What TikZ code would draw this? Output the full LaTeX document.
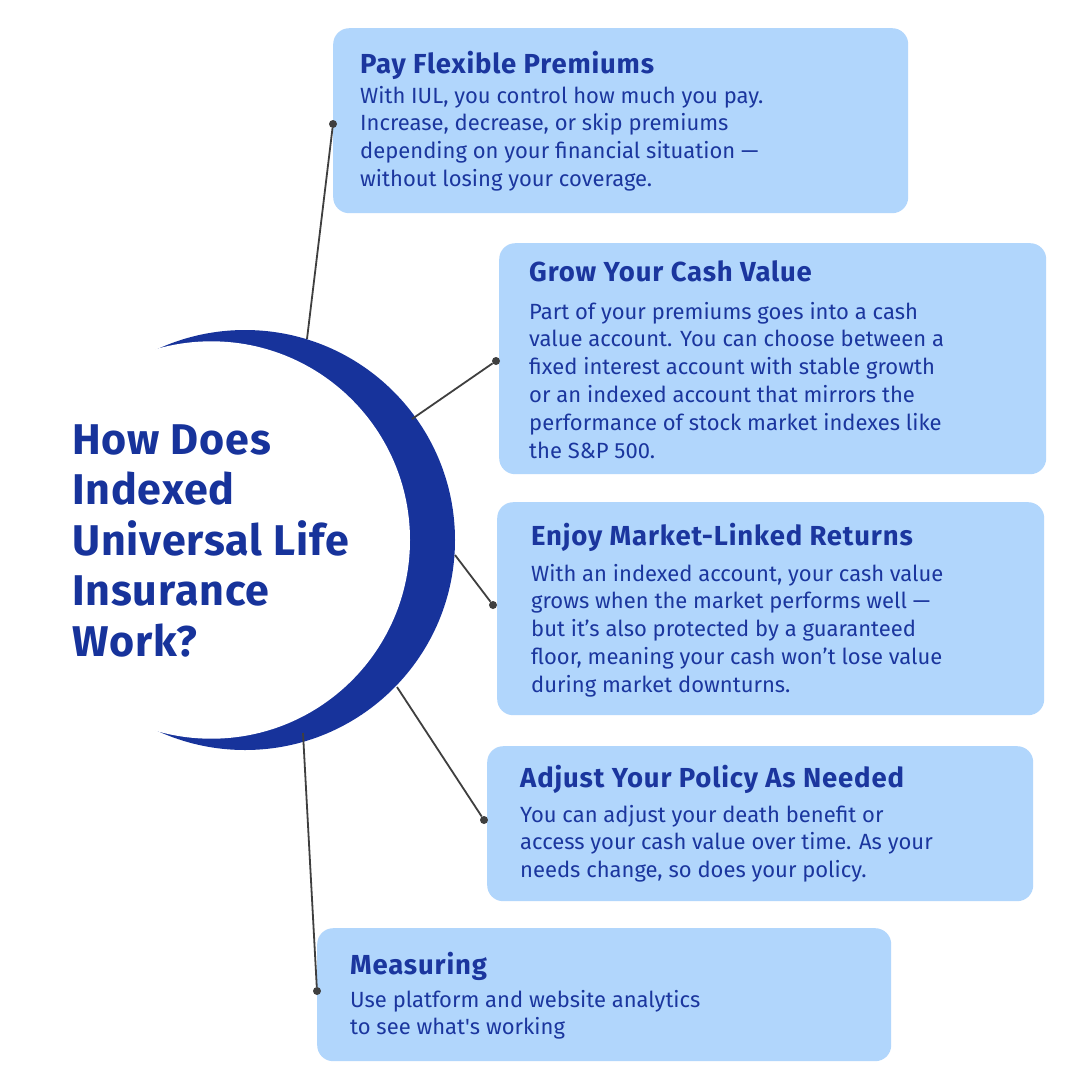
\documentclass[tikz,border=0pt]{standalone}
\usepackage{fontspec}
\setmainfont{Fira Sans}
\usetikzlibrary{positioning}
\definecolor{navy}{HTML}{17339B}
\definecolor{ink}{HTML}{1B369E}
\definecolor{sky}{HTML}{B1D6FC}
\definecolor{wire}{HTML}{3F3F3F}
\newcommand{\stack}[1]{\begin{tabular}[t]{@{}l@{}}#1\end{tabular}}

\begin{document}
\begin{tikzpicture}[x=1pt,y=-1pt]
    \tikzset{%
      card/.style={rectangle, rounded corners=16pt, fill=sky, inner sep=0pt,
        anchor=north west},
      head/.style={anchor=base west, inner sep=0pt, text=ink,
        font=\fontsize{27.5}{32}\selectfont\bfseries\addfontfeatures{LetterSpace=3}},
      body/.style={anchor=base west, inner sep=0pt, text=ink,
        font=\fontsize{22}{27.8}\selectfont},
      heading/.style={anchor=base west, inner sep=0pt, text=navy,
        font=\fontsize{43}{50.6}\selectfont\bfseries\addfontfeatures{LetterSpace=2}},
      dot/.style={circle, fill=wire, inner sep=0pt, minimum width=8pt},
      link/.style={wire, line width=1.8pt},
    }
    \useasboundingbox (0,0) rectangle (1080,1080);
    \fill[white] (0,0) rectangle (1080,1080);

    % crescent
    \fill[navy] (245,540) circle[radius=210];
    \fill[white] (211.3,540) circle[radius=198.7];
    \node[heading] (title) at (72,454)
      {\stack{How Does\\Indexed\\Universal Life\\Insurance\\Work?}};

    % cards
    \node[card, minimum width=575pt, minimum height=185pt] (b1) at (333,28) {};
    \node[head] (h1) at (360,73) {Pay Flexible Premiums};
    \node[body] (p1) at (360,103) {\stack{With IUL, you control how much you pay.\\
      Increase, decrease, or skip premiums\\
      depending on your financial situation\ —\\
      without losing your coverage.}};

    \node[card, minimum width=547pt, minimum height=231pt] (b2) at (499,243) {};
    \node[head] (h2) at (529,281) {Grow Your Cash Value};
    \node[body] (p2) at (529,319) {\stack{Part of your premiums goes into a cash\\
      value account. You can choose between a\\
      fixed interest account with stable growth\\
      or an indexed account that mirrors the\\
      performance of stock market indexes like\\
      the S\&P 500.}};

    \node[card, minimum width=547pt, minimum height=213pt] (b3) at (497,502) {};
    \node[head] (h3) at (531,545) {Enjoy Market-Linked Returns};
    \node[body] (p3) at (531,581) {\stack{With an indexed account, your cash value\\
      grows when the market performs well\ —\\
      but it’s also protected by a guaranteed\\
      floor, meaning your cash won’t lose value\\
      during market downturns.}};

    \node[card, minimum width=546pt, minimum height=155pt] (b4) at (487,746) {};
    \node[head] (h4) at (520,787) {Adjust Your Policy As Needed};
    \node[body] (p4) at (520,822) {\stack{You can adjust your death benefit or\\
      access your cash value over time. As your\\
      needs change, so does your policy.}};

    \node[card, minimum width=574pt, minimum height=133pt] (b5) at (317,928) {};
    \node[head] (h5) at (350,974) {Measuring};
    \node[body] (p5) at (350,1007) {\stack{Use platform and website analytics\\
      to see what\textquotesingle s working}};

    % connectors
    \coordinate (c1) at (307,339);
    \coordinate (c2) at (412,419);
    \coordinate (c3) at (455,555);
    \coordinate (c4) at (397,687);
    \coordinate (c5) at (303,733);
    \node[dot] (d1) at (333,124) {};
    \node[dot] (d2) at (496,361) {};
    \node[dot] (d3) at (493,605) {};
    \node[dot] (d4) at (484,820) {};
    \node[dot] (d5) at (317,991) {};
    \draw[link] (c1) -- (d1);
    \draw[link] (c2) -- (d2);
    \draw[link] (c3) -- (d3);
    \draw[link] (c4) -- (d4);
    \draw[link] (c5) -- (d5);
\end{tikzpicture}
\end{document}
